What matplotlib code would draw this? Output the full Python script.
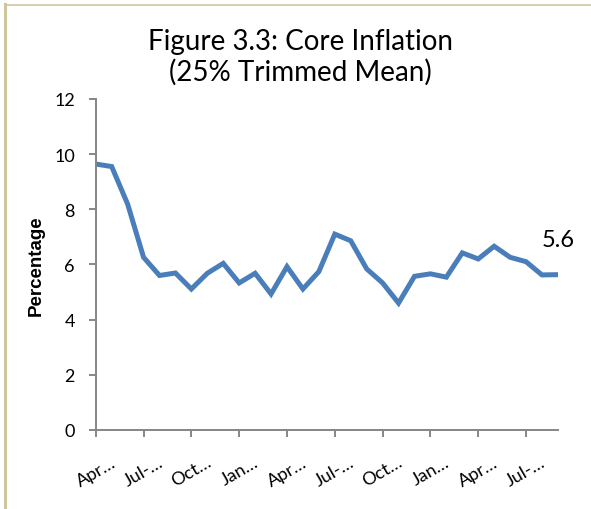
import matplotlib
matplotlib.use("Agg")
import matplotlib.pyplot as plt
from matplotlib.lines import Line2D

# Daten (monatlich, ab April)
months = ["Apr", "May", "Jun", "Jul", "Aug", "Sep", "Oct", "Nov", "Dec", "Jan",
          "Feb", "Mar", "Apr", "May", "Jun", "Jul", "Aug", "Sep", "Oct", "Nov",
          "Dec", "Jan", "Feb", "Mar", "Apr", "May", "Jun", "Jul", "Aug", "Sep"]
core_inflation = [9.64, 9.55, 8.19, 6.26, 5.60, 5.69, 5.11, 5.68, 6.04, 5.33,
                  5.68, 4.93, 5.92, 5.11, 5.74, 7.10, 6.86, 5.84, 5.33, 4.60,
                  5.57, 5.66, 5.54, 6.42, 6.20, 6.66, 6.26, 6.10, 5.62, 5.63]
tick_labels = ["Apr\u2026", "Jul-\u2026", "Oct\u2026", "Jan\u2026", "Apr\u2026",
               "Jul-\u2026", "Oct\u2026", "Jan\u2026", "Apr\u2026", "Jul-\u2026"]
last_label = "5.6"

title_font = ["Lato", "DejaVu Sans"]
tick_font = ["Lato", "DejaVu Sans"]

fig = plt.figure(figsize=(5.91, 5.10), dpi=100)
ax = fig.add_axes([0.162, 0.155, 0.782, 0.649])

x = list(range(len(core_inflation)))
ax.plot(x, core_inflation, color="#4a7ebb", lw=3.6, solid_joinstyle="miter")

ax.set_xlim(0, len(x) - 1)
ax.set_ylim(0, 12)
ax.set_yticks(range(0, 13, 2))
ax.set_xticks(x[::3])
ax.set_xticklabels(tick_labels, rotation=30, ha="center", family=tick_font, fontsize=13)
for lab in ax.get_yticklabels():
    lab.set_family(tick_font)
    lab.set_fontsize(13)

for s in ["top", "right"]:
    ax.spines[s].set_visible(False)
for s in ["left", "bottom"]:
    ax.spines[s].set_color("#868686")
    ax.spines[s].set_linewidth(1.4)
ax.tick_params(axis="y", length=5, width=1.4, color="#868686", pad=10)
ax.tick_params(axis="x", length=5, width=1.4, color="#868686", pad=12)

ax.set_ylabel("Percentage", family=["Liberation Sans", "DejaVu Sans"], fontweight="bold",
              fontsize=13.5, labelpad=7)

ax.annotate(last_label, (x[-1], core_inflation[-1]), xytext=(0, 18),
            textcoords="offset points", ha="center", va="bottom",
            fontsize=17, family=tick_font)

fig.text(0.508, 0.918, "Figure 3.3: Core Inflation", ha="center", va="center",
         fontsize=20, family=title_font)
fig.text(0.508, 0.859, "(25% Trimmed Mean)", ha="center", va="center",
         fontsize=20, family=title_font)

# Rahmen links und oben
fig.add_artist(Line2D([5 / 591, 5 / 591], [0, 1 - 5 / 510], transform=fig.transFigure,
                      color="#cfc6a0", lw=2.2))
fig.add_artist(Line2D([5 / 591, 1], [1 - 5.5 / 510, 1 - 5.5 / 510], transform=fig.transFigure,
                      color="#cfc6a0", lw=1.2))

fig.savefig("out.png", dpi=100)
